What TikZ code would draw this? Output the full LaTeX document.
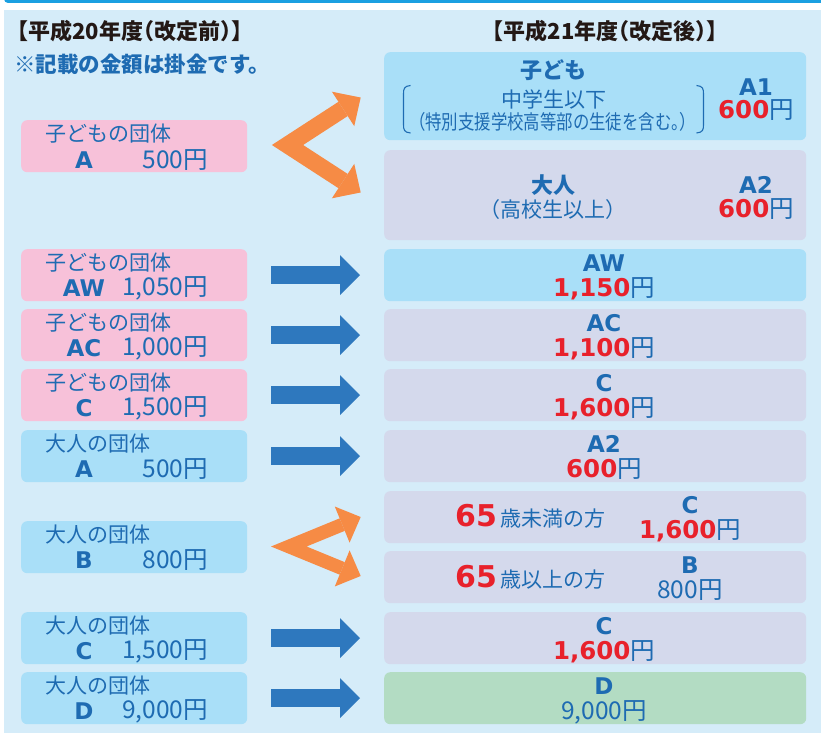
\documentclass[tikz,border=0pt]{standalone}
\usepackage{fontspec}
\usetikzlibrary{arrows.meta}
\setmainfont{Noto Sans CJK JP}
\newfontfamily\jph[CharacterWidth=AlternateHalf]{Noto Sans CJK JP}
\newfontfamily\jpcond[FakeStretch=0.82,CharacterWidth=AlternateHalf]{Noto Sans CJK JP}
\newfontfamily\latb{DejaVu Sans}
\definecolor{bgc}{HTML}{D5ECF9}
\definecolor{topc}{HTML}{1BA0E1}
\definecolor{pinkc}{HTML}{F7C1D9}
\definecolor{lbluec}{HTML}{A9DFF8}
\definecolor{lavc}{HTML}{D4D9EC}
\definecolor{greenc}{HTML}{B3DCC3}
\definecolor{txtc}{HTML}{1E6BB2}
\definecolor{redc}{HTML}{E8212B}
\definecolor{orc}{HTML}{F68B45}
\definecolor{arrc}{HTML}{2E78BE}
\definecolor{hdc}{HTML}{231815}
\newcommand\rnum[1]{{\color{redc}\latb\bfseries #1}}
\begin{document}
\begin{tikzpicture}[x=1pt,y=-1pt,
  box/.style={rounded corners=6pt, minimum height=52pt, inner sep=0pt, anchor=north west},
  lbox/.style={box, minimum width=226pt},
  rbox/.style={box, minimum width=422pt},
  txt/.style={inner sep=0pt, text=txtc},
  grp/.style={txt, anchor=west, font=\fontsize{21}{21}\selectfont},
  lab/.style={txt, font=\latb\bfseries\fontsize{23}{23}\selectfont},
  price/.style={txt, font=\fontsize{24.5}{24.5}\selectfont},
  bigj/.style={txt, font=\bfseries\fontsize{22}{22}\selectfont},
  midj/.style={txt, font=\jph\fontsize{21}{21}\selectfont},
  hdr/.style={inner sep=0pt, text=hdc, font=\jph\bfseries\fontsize{22}{22}\selectfont},
  blarrow/.style={draw=arrc, line width=18pt, shorten <=24pt, shorten >=24pt,
    -{Triangle[length=20pt,width=40pt,line width=0pt]}},
  chev/.style={draw=orc, line join=miter},
  brk/.style={draw=txtc, line width=1.1pt}
]
\useasboundingbox (0,0) rectangle (821,733);
\fill[bgc] (4,10) rectangle (821,733);
\fill[topc, rounded corners=4pt] (4,-12) rectangle (840,3);

% headers
\node[hdr] (h1) at (130,31) {【平成20年度（改定前）】};
\node[hdr] (h2) at (605,31) {【平成21年度（改定後）】};
\node[txt, anchor=west, font=\bfseries\fontsize{21.5}{21.5}\selectfont] (note) at (14,64) {※記載の金額は掛金です。};

% left boxes
\node[lbox, fill=pinkc] (l1) at (21,120) {};
\node[lbox, fill=pinkc] (l2) at (21,249) {};
\node[lbox, fill=pinkc] (l3) at (21,309) {};
\node[lbox, fill=pinkc] (l4) at (21,369) {};
\node[lbox, fill=lbluec] (l5) at (21,430) {};
\node[lbox, fill=lbluec] (l6) at (21,521) {};
\node[lbox, fill=lbluec] (l7) at (21,612) {};
\node[lbox, fill=lbluec] (l8) at (21,672) {};

\node[grp] (l1g) at (45,134) {子どもの団体};
\node[lab] (l1l) at (84,160) {A};
\node[price, anchor=east] (l1p) at (208,160) {500円};
\node[grp] (l2g) at (45,263) {子どもの団体};
\node[lab] (l2l) at (84,288) {AW};
\node[price, anchor=east] (l2p) at (208,288) {1,050円};
\node[grp] (l3g) at (45,323) {子どもの団体};
\node[lab] (l3l) at (84,348) {AC};
\node[price, anchor=east] (l3p) at (208,348) {1,000円};
\node[grp] (l4g) at (45,383) {子どもの団体};
\node[lab] (l4l) at (84,408) {C};
\node[price, anchor=east] (l4p) at (208,408) {1,500円};
\node[grp] (l5g) at (45,444) {大人の団体};
\node[lab] (l5l) at (84,469) {A};
\node[price, anchor=east] (l5p) at (208,469) {500円};
\node[grp] (l6g) at (45,535) {大人の団体};
\node[lab] (l6l) at (84,560) {B};
\node[price, anchor=east] (l6p) at (208,560) {800円};
\node[grp] (l7g) at (45,626) {大人の団体};
\node[lab] (l7l) at (84,651) {C};
\node[price, anchor=east] (l7p) at (208,651) {1,500円};
\node[grp] (l8g) at (45,686) {大人の団体};
\node[lab] (l8l) at (84,711) {D};
\node[price, anchor=east] (l8p) at (208,711) {9,000円};

% right boxes
\node[rbox, fill=lbluec, minimum height=88pt] (r1) at (384,52) {};
\node[rbox, fill=lavc, minimum height=90pt] (r2) at (384,150) {};
\node[rbox, fill=lbluec] (r3) at (384,249) {};
\node[rbox, fill=lavc] (r4) at (384,309) {};
\node[rbox, fill=lavc] (r5) at (384,369) {};
\node[rbox, fill=lavc] (r6) at (384,430) {};
\node[rbox, fill=lavc] (r7) at (384,491) {};
\node[rbox, fill=lavc] (r8) at (384,551) {};
\node[rbox, fill=lavc] (r9) at (384,612) {};
\node[rbox, fill=greenc] (r10) at (384,672) {};

% r1
\node[bigj] (r1a) at (553,70) {子ども};
\node[midj] (r1b) at (554,99) {中学生以下};
\node[txt, font=\jpcond\fontsize{20}{20}\selectfont] (r1c) at (552.5,122) {（特別支援学校高等部の生徒を含む。）};
\draw[brk] (410.5,85.5) .. controls (404,86) and (403.5,89) .. (403.5,94) -- (403.5,124.5) .. controls (403.5,129.5) and (404,132.5) .. (410.5,133);
\draw[brk] (696.5,85.5) .. controls (703,86) and (703.5,89) .. (703.5,94) -- (703.5,124.5) .. controls (703.5,129.5) and (703,132.5) .. (696.5,133);
\node[lab] (r1l) at (756,87) {A1};
\node[price] (r1p) at (756,110) {\rnum{600}円};
% r2
\node[bigj] (r2a) at (553,185.5) {大人};
\node[midj] (r2b) at (552.5,209.5) {（高校生以上）};
\node[lab] (r2l) at (756,184.5) {A2};
\node[price] (r2p) at (756,209) {\rnum{600}円};
% singles
\node[lab] (r3l) at (604,263) {AW};
\node[price] (r3p) at (604,288.5) {\rnum{1,150}円};
\node[lab] (r4l) at (604,323) {AC};
\node[price] (r4p) at (604,348.5) {\rnum{1,100}円};
\node[lab] (r5l) at (604,383) {C};
\node[price] (r5p) at (604,408.5) {\rnum{1,600}円};
\node[lab] (r6l) at (604,444) {A2};
\node[price] (r6p) at (604,469.5) {\rnum{600}円};
\node[lab] (r9l) at (604,626) {C};
\node[price] (r9p) at (604,651.5) {\rnum{1,600}円};
\node[lab] (r10l) at (604,686) {D};
\node[price] (r10p) at (604,712.5) {9,000円};
% 65 rows
\node[txt, anchor=base west] (r7a) at (455,526) {\rnum{\fontsize{30}{30}\selectfont 65}\hspace{4pt}\fontsize{21}{21}\selectfont 歳未満の方};
\node[lab] (r7l) at (690,505.5) {C};
\node[price] (r7p) at (690,530.5) {\rnum{1,600}円};
\node[txt, anchor=base west] (r8a) at (455,587) {\rnum{\fontsize{30}{30}\selectfont 65}\hspace{4pt}\fontsize{21}{21}\selectfont 歳以上の方};
\node[lab] (r8l) at (690,565) {B};
\node[price] (r8p) at (690,590.5) {800円};

% blue arrows
\draw[blarrow] (l2.east) -- (r3.west);
\draw[blarrow] (l3.east) -- (r4.west);
\draw[blarrow] (l4.east) -- (r5.west);
\draw[blarrow] (l5.east) -- (r6.west);
\draw[blarrow] (l7.east) -- (r9.west);
\draw[blarrow] (l8.east) -- (r10.west);

% orange chevrons
\coordinate (c1v) at (287.5,145);
\coordinate (c1u) at (360.7,97.5);
\coordinate (c1d) at (360.7,192.5);
\draw[chev, line width=17pt, {Triangle[length=21pt,width=41pt,line width=0pt]}-{Triangle[length=21pt,width=41pt,line width=0pt]}] (c1u) -- (c1v) -- (c1d);
\coordinate (c2v) at (288.8,546.5);
\coordinate (c2u) at (360.7,517);
\coordinate (c2d) at (360.7,576);
\draw[chev, line width=13.5pt, {Triangle[length=20pt,width=39pt,line width=0pt]}-{Triangle[length=20pt,width=39pt,line width=0pt]}] (c2u) -- (c2v) -- (c2d);
\end{tikzpicture}
\end{document}
